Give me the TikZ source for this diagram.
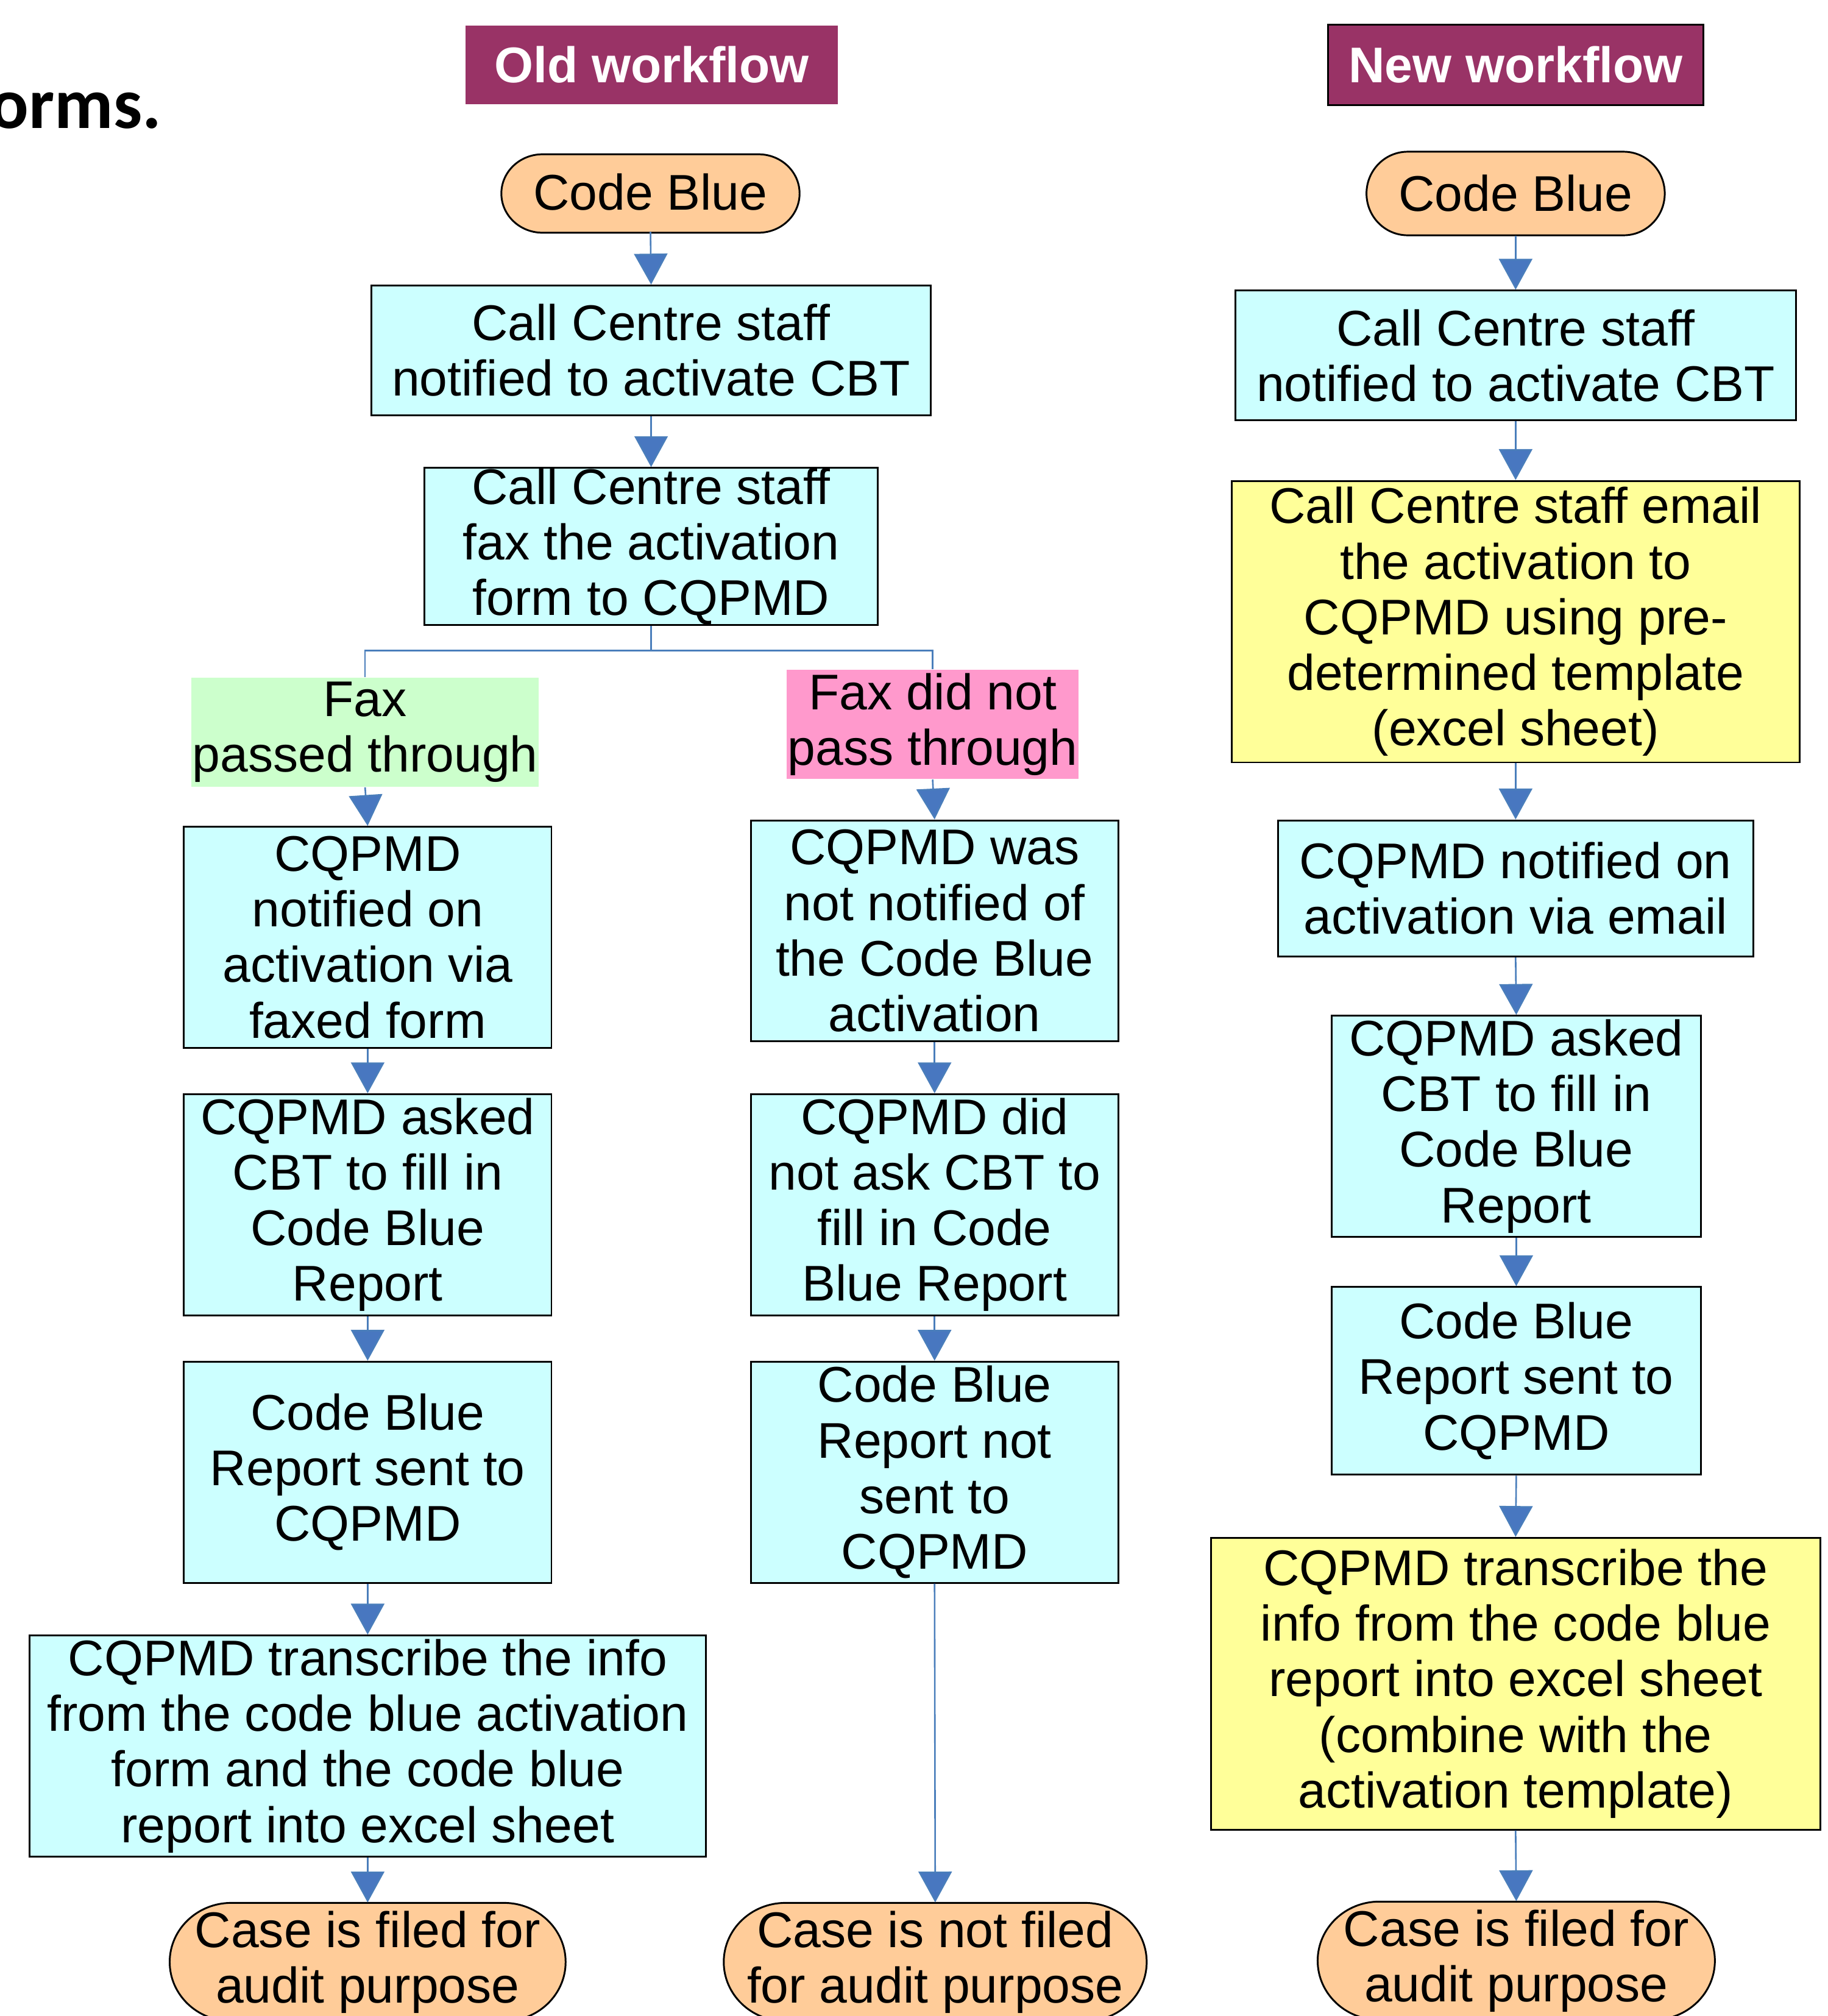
\documentclass[tikz,border=0pt]{standalone}
\usepackage{fontspec}
\setmainfont{Liberation Sans}
\newfontfamily\carl{Carlito}
\usetikzlibrary{arrows.meta}
\definecolor{cyanbox}{HTML}{CCFFFF}
\definecolor{yelbox}{HTML}{FFFF99}
\definecolor{peach}{HTML}{FFCC99}
\definecolor{greenbox}{HTML}{CCFFCC}
\definecolor{pinkbox}{HTML}{FF99CC}
\definecolor{plum}{HTML}{993366}
\definecolor{conblue}{HTML}{4A7EBB}
\definecolor{tipblue}{HTML}{4877C0}
\tikzset{
 txt/.style={font=\fontsize{22.2}{24.6}\selectfont, align=center, inner sep=0pt, text=black},
 box/.style={txt, draw=black, line width=0.8pt, fill=cyanbox},
 ybox/.style={box, fill=yelbox},
 hdr/.style={inner sep=0pt, fill=plum, font=\fontsize{22.2}{24.6}\selectfont\bfseries, text=white},
 lbl/.style={txt, draw=none},
 conn/.style={draw=conblue, line width=0.7pt, -{Triangle[width=0.52cm,length=0.48cm,fill=tipblue]}},
 branch/.style={draw=conblue, line width=0.7pt},
 pillshape/.style={draw=black, line width=0.8pt, fill=peach},
}
\newcommand\pill[6]{\filldraw[pillshape] ([xshift=#5]#1,#2) -- ([xshift=-#5]#3,#2) arc[start angle=90,end angle=0,x radius=#5,y radius=#6] -- ([yshift=#6]#3,#4) arc[start angle=0,end angle=-90,x radius=#5,y radius=#6] -- ([xshift=#5]#1,#4) arc[start angle=-90,end angle=-180,x radius=#5,y radius=#6] -- ([yshift=-#6]#1,#2) arc[start angle=180,end angle=90,x radius=#5,y radius=#6] -- cycle;}
\begin{document}
\begin{tikzpicture}[x=0.02cm,y=0.02cm]
\useasboundingbox (0,0) rectangle (1422,-1568);
% title fragment
\node[font=\carl\bfseries\fontsize{32}{36}\selectfont, anchor=base east, inner sep=0pt] (orms) at (126,-100) {orms.};
% headers
\node[hdr, minimum width=5.80cm, minimum height=1.22cm] (hold) at (507,-50.5) {Old workflow};
\node[hdr, draw=black, line width=0.8pt, minimum width=5.84cm, minimum height=1.26cm] (hnew) at (1179,-50.5) {New workflow};
% pills
\pill{390}{-120}{622}{-181}{0.64cm}{0.61cm}
\pill{1063}{-118}{1295}{-183}{0.64cm}{0.65cm}
\pill{132}{-1480}{440}{-1572}{0.96cm}{0.92cm}
\pill{563}{-1480}{892}{-1572}{0.96cm}{0.92cm}
\pill{1025}{-1479}{1334}{-1571}{0.96cm}{0.92cm}
% old workflow
\node[lbl, minimum width=4.64cm, minimum height=1.22cm] (cb1) at (506,-149.5) {Code Blue};
\node[box, minimum width=8.70cm, minimum height=2.02cm] (cc1) at (506.5,-272.5) {Call Centre staff\\notified to activate CBT};
\node[box, minimum width=7.06cm, minimum height=2.44cm] (cc2) at (506.5,-425) {Call Centre staff\\fax the activation\\form to CQPMD};
\node[lbl, fill=greenbox, minimum width=5.40cm, minimum height=1.70cm] (fp) at (284,-569.5) {Fax\\passed through};
\node[lbl, fill=pinkbox, minimum width=4.54cm, minimum height=1.70cm] (fn) at (725.5,-563.5) {Fax did not\\pass through};
\node[box, minimum width=5.72cm, minimum height=3.44cm] (l1) at (286,-729) {CQPMD\\notified on\\activation via\\faxed form};
\node[box, minimum width=5.72cm, minimum height=3.44cm] (l2) at (286,-937) {CQPMD asked\\CBT to fill in\\Code Blue\\Report};
\node[box, minimum width=5.72cm, minimum height=3.44cm] (l3) at (286,-1145) {Code Blue\\Report sent to\\CQPMD};
\node[box, minimum width=10.52cm, minimum height=3.44cm] (l4) at (286,-1358) {CQPMD transcribe the info\\from the code blue activation\\form and the code blue\\report into excel sheet};
\node[lbl, minimum width=6.16cm, minimum height=1.84cm] (l5) at (286,-1526) {Case is filed for\\audit purpose};
\node[box, minimum width=5.72cm, minimum height=3.44cm] (r1) at (727,-724) {CQPMD was\\not notified of\\the Code Blue\\activation};
\node[box, minimum width=5.72cm, minimum height=3.44cm] (r2) at (727,-937) {CQPMD did\\not ask CBT to\\fill in Code\\Blue Report};
\node[box, minimum width=5.72cm, minimum height=3.44cm] (r3) at (727,-1145) {Code Blue\\Report not\\sent to\\CQPMD};
\node[lbl, minimum width=6.58cm, minimum height=1.84cm] (r4) at (727.5,-1526) {Case is not filed\\for audit purpose};
% new workflow
\node[lbl, minimum width=4.64cm, minimum height=1.30cm] (cb2) at (1179,-150.5) {Code Blue};
\node[box, minimum width=8.72cm, minimum height=2.02cm] (n1) at (1179,-276.5) {Call Centre staff\\notified to activate CBT};
\node[ybox, minimum width=8.84cm, minimum height=4.38cm] (n2) at (1179,-483.5) {Call Centre staff email\\the activation to\\CQPMD using pre-\\determined template\\(excel sheet)};
\node[box, minimum width=7.40cm, minimum height=2.12cm] (n3) at (1179,-691) {CQPMD notified on\\activation via email};
\node[box, minimum width=5.74cm, minimum height=3.44cm] (n4) at (1179.5,-876) {CQPMD asked\\CBT to fill in\\Code Blue\\Report};
\node[box, minimum width=5.74cm, minimum height=2.92cm] (n5) at (1179.5,-1074) {Code Blue\\Report sent to\\CQPMD};
\node[ybox, minimum width=9.48cm, minimum height=4.54cm] (n6) at (1179,-1309.5) {CQPMD transcribe the\\info from the code blue\\report into excel sheet\\(combine with the\\activation template)};
\node[lbl, minimum width=6.18cm, minimum height=1.84cm] (n7) at (1179.5,-1525) {Case is filed for\\audit purpose};
% connectors old
\draw[conn] (cb1.south) -- (cc1.north);
\draw[conn] (cc1.south) -- (cc2.north);
\coordinate (br) at (cc2.south |- 0,-506);
\draw[branch] (cc2.south) -- (br);
\draw[branch] (fp.north) |- (br) -| (fn.north);
\draw[conn] (fp.south) -- (l1.north);
\draw[conn] (l1.south) -- (l2.north);
\draw[conn] (l2.south) -- (l3.north);
\draw[conn] (l3.south) -- (l4.north);
\draw[conn] (l4.south) -- (l5.north);
\draw[conn] (fn.south) -- (r1.north);
\draw[conn] (r1.south) -- (r2.north);
\draw[conn] (r2.south) -- (r3.north);
\draw[conn] (r3.south) -- (r4.north);
% connectors new
\draw[conn] (cb2.south) -- (n1.north);
\draw[conn] (n1.south) -- (n2.north);
\draw[conn] (n2.south) -- (n3.north);
\draw[conn] (n3.south) -- (n4.north);
\draw[conn] (n4.south) -- (n5.north);
\draw[conn] (n5.south) -- (n6.north);
\draw[conn] (n6.south) -- (n7.north);
\end{tikzpicture}
\end{document}
